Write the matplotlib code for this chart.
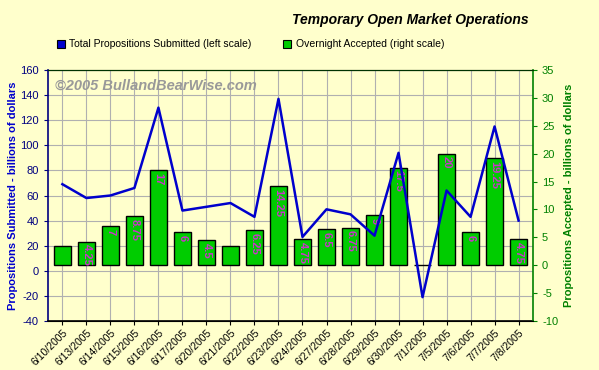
import matplotlib
matplotlib.use("Agg")
import matplotlib.pyplot as plt
from matplotlib.patches import Patch

plt.rcParams['font.family'] = ['Liberation Sans', 'DejaVu Sans']
plt.rcParams['axes.unicode_minus'] = False

# data
dates = ["6/10/2005", "6/13/2005", "6/14/2005", "6/15/2005", "6/16/2005",
         "6/17/2005", "6/20/2005", "6/21/2005", "6/22/2005", "6/23/2005",
         "6/24/2005", "6/27/2005", "6/28/2005", "6/29/2005", "6/30/2005",
         "7/1/2005", "7/5/2005", "7/6/2005", "7/7/2005", "7/8/2005"]
submitted = [69, 58, 60, 66, 130, 48, 51, 54, 43, 137,
             27, 49, 45, 28, 94, -21, 64, 43, 115, 40]
accepted = [3.5, 4.25, 7, 8.75, 17, 6, 4.5, 3.5, 6.25, 14.25,
            4.75, 6.5, 6.75, 9, 17.5, 0, 20, 6, 19.25, 4.75]
bar_labels = ["", "4.25", "7", "8.75", "17", "6", "4.5", "", "6.25", "14.25",
              "4.75", "6.5", "6.75", "9", "17.5", "", "20", "6", "19.25", "4.75"]

bg = "#FFFFCC"
blue = "#0000CC"
navy = "#000080"
green = "#008000"
bar_green = "#00CC00"

fig = plt.figure(figsize=(5.99, 3.70), dpi=100, facecolor=bg)
ax = fig.add_axes([0.0801, 0.1324, 0.8097, 0.6784])
ax.set_facecolor(bg)
x = list(range(len(dates)))

# left scale, grid
ax.set_ylim(-40, 160)
ax.set_yticks(range(-40, 161, 20))
ax.set_xlim(-0.6, len(dates) - 0.4)
ax.set_xticks(x)
ax.set_xticklabels(dates, rotation=45, ha="right", rotation_mode="anchor", fontsize=7.5)
ax.grid(True, color="#B0B0B0", lw=0.8)
ax.set_axisbelow(True)
ax.tick_params(axis="y", colors=navy, labelsize=8, length=3)
ax.tick_params(axis="x", length=3, pad=2)
ax.spines["left"].set_color(navy)
ax.spines["left"].set_linewidth(1.2)
ax.spines["bottom"].set_linewidth(1.2)
ax.spines["right"].set_visible(False)
ax.set_ylabel("Propositions Submitted - billions of dollars", color=blue,
              fontsize=8, fontweight="bold", labelpad=2)

# right scale, bars
ax2 = ax.twinx()
ax2.set_ylim(-10, 35)
ax2.set_yticks(range(-10, 36, 5))
ax2.bar(x, accepted, width=0.68, color=bar_green, edgecolor="black", lw=1)
for i in x:
    if bar_labels[i]:
        ax2.annotate(bar_labels[i], (i, accepted[i]), xytext=(0, -2),
                     textcoords="offset points", rotation=270, ha="center", va="top",
                     color="#CC33CC", fontsize=8, fontweight="bold")
ax2.tick_params(axis="y", colors=green, labelsize=8, length=3)
ax2.spines["right"].set_color(green)
ax2.spines["right"].set_linewidth(1.2)
ax2.spines["left"].set_visible(False)
ax2.spines["top"].set_color("#003300")
ax2.set_ylabel("Propositions Accepted - billions of dollars", color=green,
               fontsize=8, fontweight="bold", labelpad=4)

# line on top, left scale
ax3 = ax.twinx()
ax3.set_ylim(-40, 160)
ax3.plot(x, submitted, color=blue, lw=1.8)
ax3.axis("off")

ax.text(0.015, 0.965, "\u00a92005 BullandBearWise.com", transform=ax.transAxes,
        color="#999999", fontsize=10.5, fontweight="bold", style="italic", va="top", zorder=5)

fig.text(0.685, 0.945, "Temporary Open Market Operations", ha="center", va="center",
         fontsize=10, fontweight="bold", style="italic")

handles = [Patch(facecolor=blue, edgecolor="black", lw=0.8),
           Patch(facecolor=bar_green, edgecolor="black", lw=0.8)]
fig.legend(handles, ["Total Propositions Submitted (left scale)", "Overnight Accepted (right scale)"],
           loc="center left", bbox_to_anchor=(0.095, 0.88), ncol=2, frameon=False,
           fontsize=7.5, handlelength=0.8, handleheight=0.8, handletextpad=0.4,
           columnspacing=3.0, borderaxespad=0, borderpad=0)

fig.savefig("out.png", dpi=100, facecolor=bg)
